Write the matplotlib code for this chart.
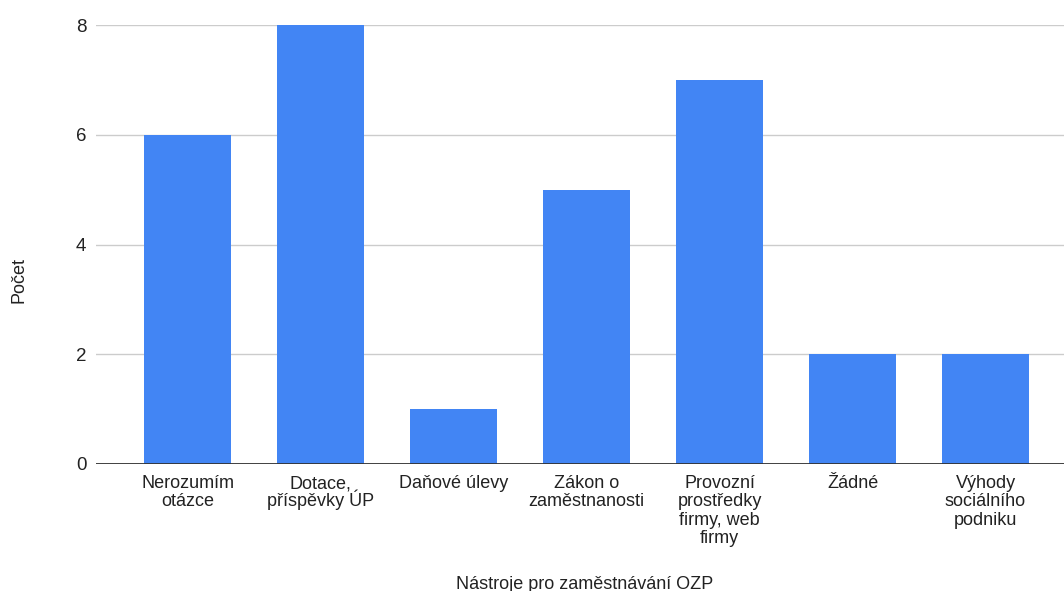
import matplotlib
matplotlib.use("Agg")
import matplotlib.pyplot as plt

categories = [
    "Nerozumím\notázce",
    "Dotace,\npříspěvky ÚP",
    "Daňové úlevy",
    "Zákon o\nzaměstnanosti",
    "Provozní\nprostředky\nfirmy, web\nfirmy",
    "Žádné",
    "Výhody\nsociálního\npodniku",
]
counts = [6, 8, 1, 5, 7, 2, 2]
y_ticks = [0, 2, 4, 6, 8]

plt.rcParams["font.family"] = ["Liberation Sans", "DejaVu Sans"]

fig = plt.figure(figsize=(10.64, 5.91), dpi=100)
ax = fig.add_axes([96 / 1064, 1 - 464 / 591, 968 / 1064, (464 - 25) / 591])

x = list(range(len(categories)))
ax.bar(x, counts, width=0.654, color="#4285F4", zorder=3)

ax.set_xlim(-0.688, 6.59)
ax.set_ylim(0, 8)
ax.set_yticks(y_ticks)
ax.set_yticklabels([str(v) for v in y_ticks], fontsize=13.5, color="#222222")
ax.tick_params(axis="both", length=0)
ax.tick_params(axis="y", pad=7)
ax.set_xticks(x)
ax.set_xticklabels([""] * len(x))

# category labels, one baseline per line so accented capitals don't stretch the spacing
first_baseline = 17.3   # points below the axis
line_step = 13.2        # points between baselines
for xi, label in zip(x, categories):
    for i, line in enumerate(label.split("\n")):
        ax.annotate(line, xy=(xi, 0), xycoords=("data", "axes fraction"),
                    xytext=(0, -(first_baseline + i * line_step)),
                    textcoords="offset points", ha="center", va="baseline",
                    fontsize=13, color="#222222", annotation_clip=False)

for s in ax.spines.values():
    s.set_visible(False)
ax.grid(axis="y", color="#cccccc", linewidth=1, zorder=0)
ax.axhline(0, color="#333333", linewidth=1.3, zorder=4)

ax.set_xlabel("Nástroje pro zaměstnávání OZP", fontsize=13, color="#222222")
ax.xaxis.set_label_coords(0.505, -0.255)
ax.set_ylabel("Počet", fontsize=13, color="#222222")
ax.yaxis.set_label_coords(-0.071, 0.419)

fig.savefig("out.png", dpi=100)
